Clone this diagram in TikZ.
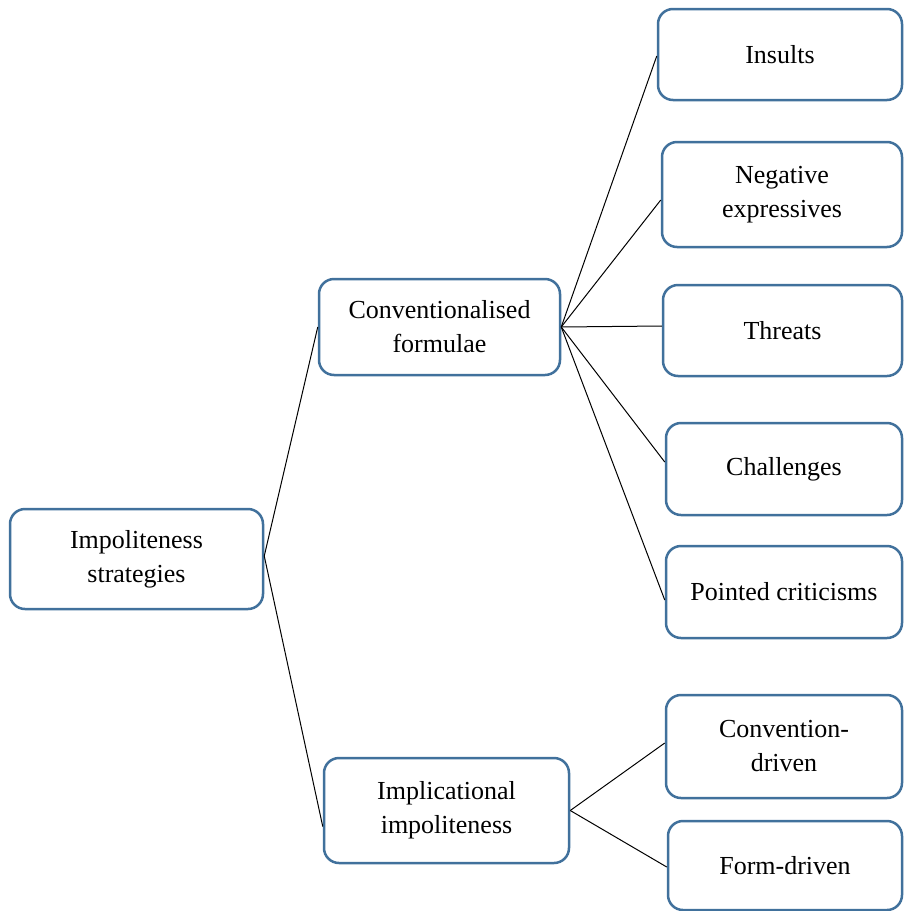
\documentclass[tikz,border=0pt]{standalone}
\usepackage{fontspec}
\setmainfont{Liberation Serif}
\definecolor{boxblue}{RGB}{65,113,156}
\begin{document}
\begin{tikzpicture}[x=1pt,y=-1pt,
  box/.style={draw=boxblue, line width=2.5pt, rounded corners=15pt, fill=white,
    align=center, inner sep=0pt, font=\fontsize{26}{34}\selectfont},
  conn/.style={draw=black, line width=1pt}]
\useasboundingbox (0,0) rectangle (903,911);
\node[box, minimum width=253pt, minimum height=100pt] (strat) at (136.5,559) {Impoliteness\\strategies};
\node[box, minimum width=241pt, minimum height=96pt] (conv) at (439.5,327) {Conventionalised\\formulae};
\node[box, minimum width=245pt, minimum height=105pt] (impl) at (446.5,810.5) {Implicational\\impoliteness};
\node[box, minimum width=244pt, minimum height=91pt] (ins) at (780,54.5) {Insults};
\node[box, minimum width=240pt, minimum height=105pt] (neg) at (782,194.5) {Negative\\expressives};
\node[box, minimum width=239pt, minimum height=91pt] (thr) at (782.5,330.5) {Threats};
\node[box, minimum width=236pt, minimum height=92pt] (cha) at (784,469) {Challenges};
\node[box, minimum width=236pt, minimum height=92pt] (poi) at (784,592) {Pointed criticisms};
\node[box, minimum width=236pt, minimum height=103pt] (cdr) at (784,746.5) {Convention-\\driven};
\node[box, minimum width=234pt, minimum height=89pt] (fdr) at (785,865.5) {Form-driven};
\draw[conn] ([yshift=3pt]strat.east) -- (conv.west);
\draw[conn] ([yshift=3pt]strat.east) -- ([yshift=-16pt]impl.west);
\draw[conn] (conv.east) -- ([yshift=-1.5pt]ins.west);
\draw[conn] (conv.east) -- ([yshift=-5.5pt]neg.west);
\draw[conn] (conv.east) -- ([yshift=4.5pt]thr.west);
\draw[conn] (conv.east) -- ([yshift=7pt]cha.west);
\draw[conn] (conv.east) -- ([yshift=-8pt]poi.west);
\draw[conn] (impl.east) -- ([yshift=3.5pt]cdr.west);
\draw[conn] (impl.east) -- ([yshift=-1.5pt]fdr.west);
\end{tikzpicture}
\end{document}
